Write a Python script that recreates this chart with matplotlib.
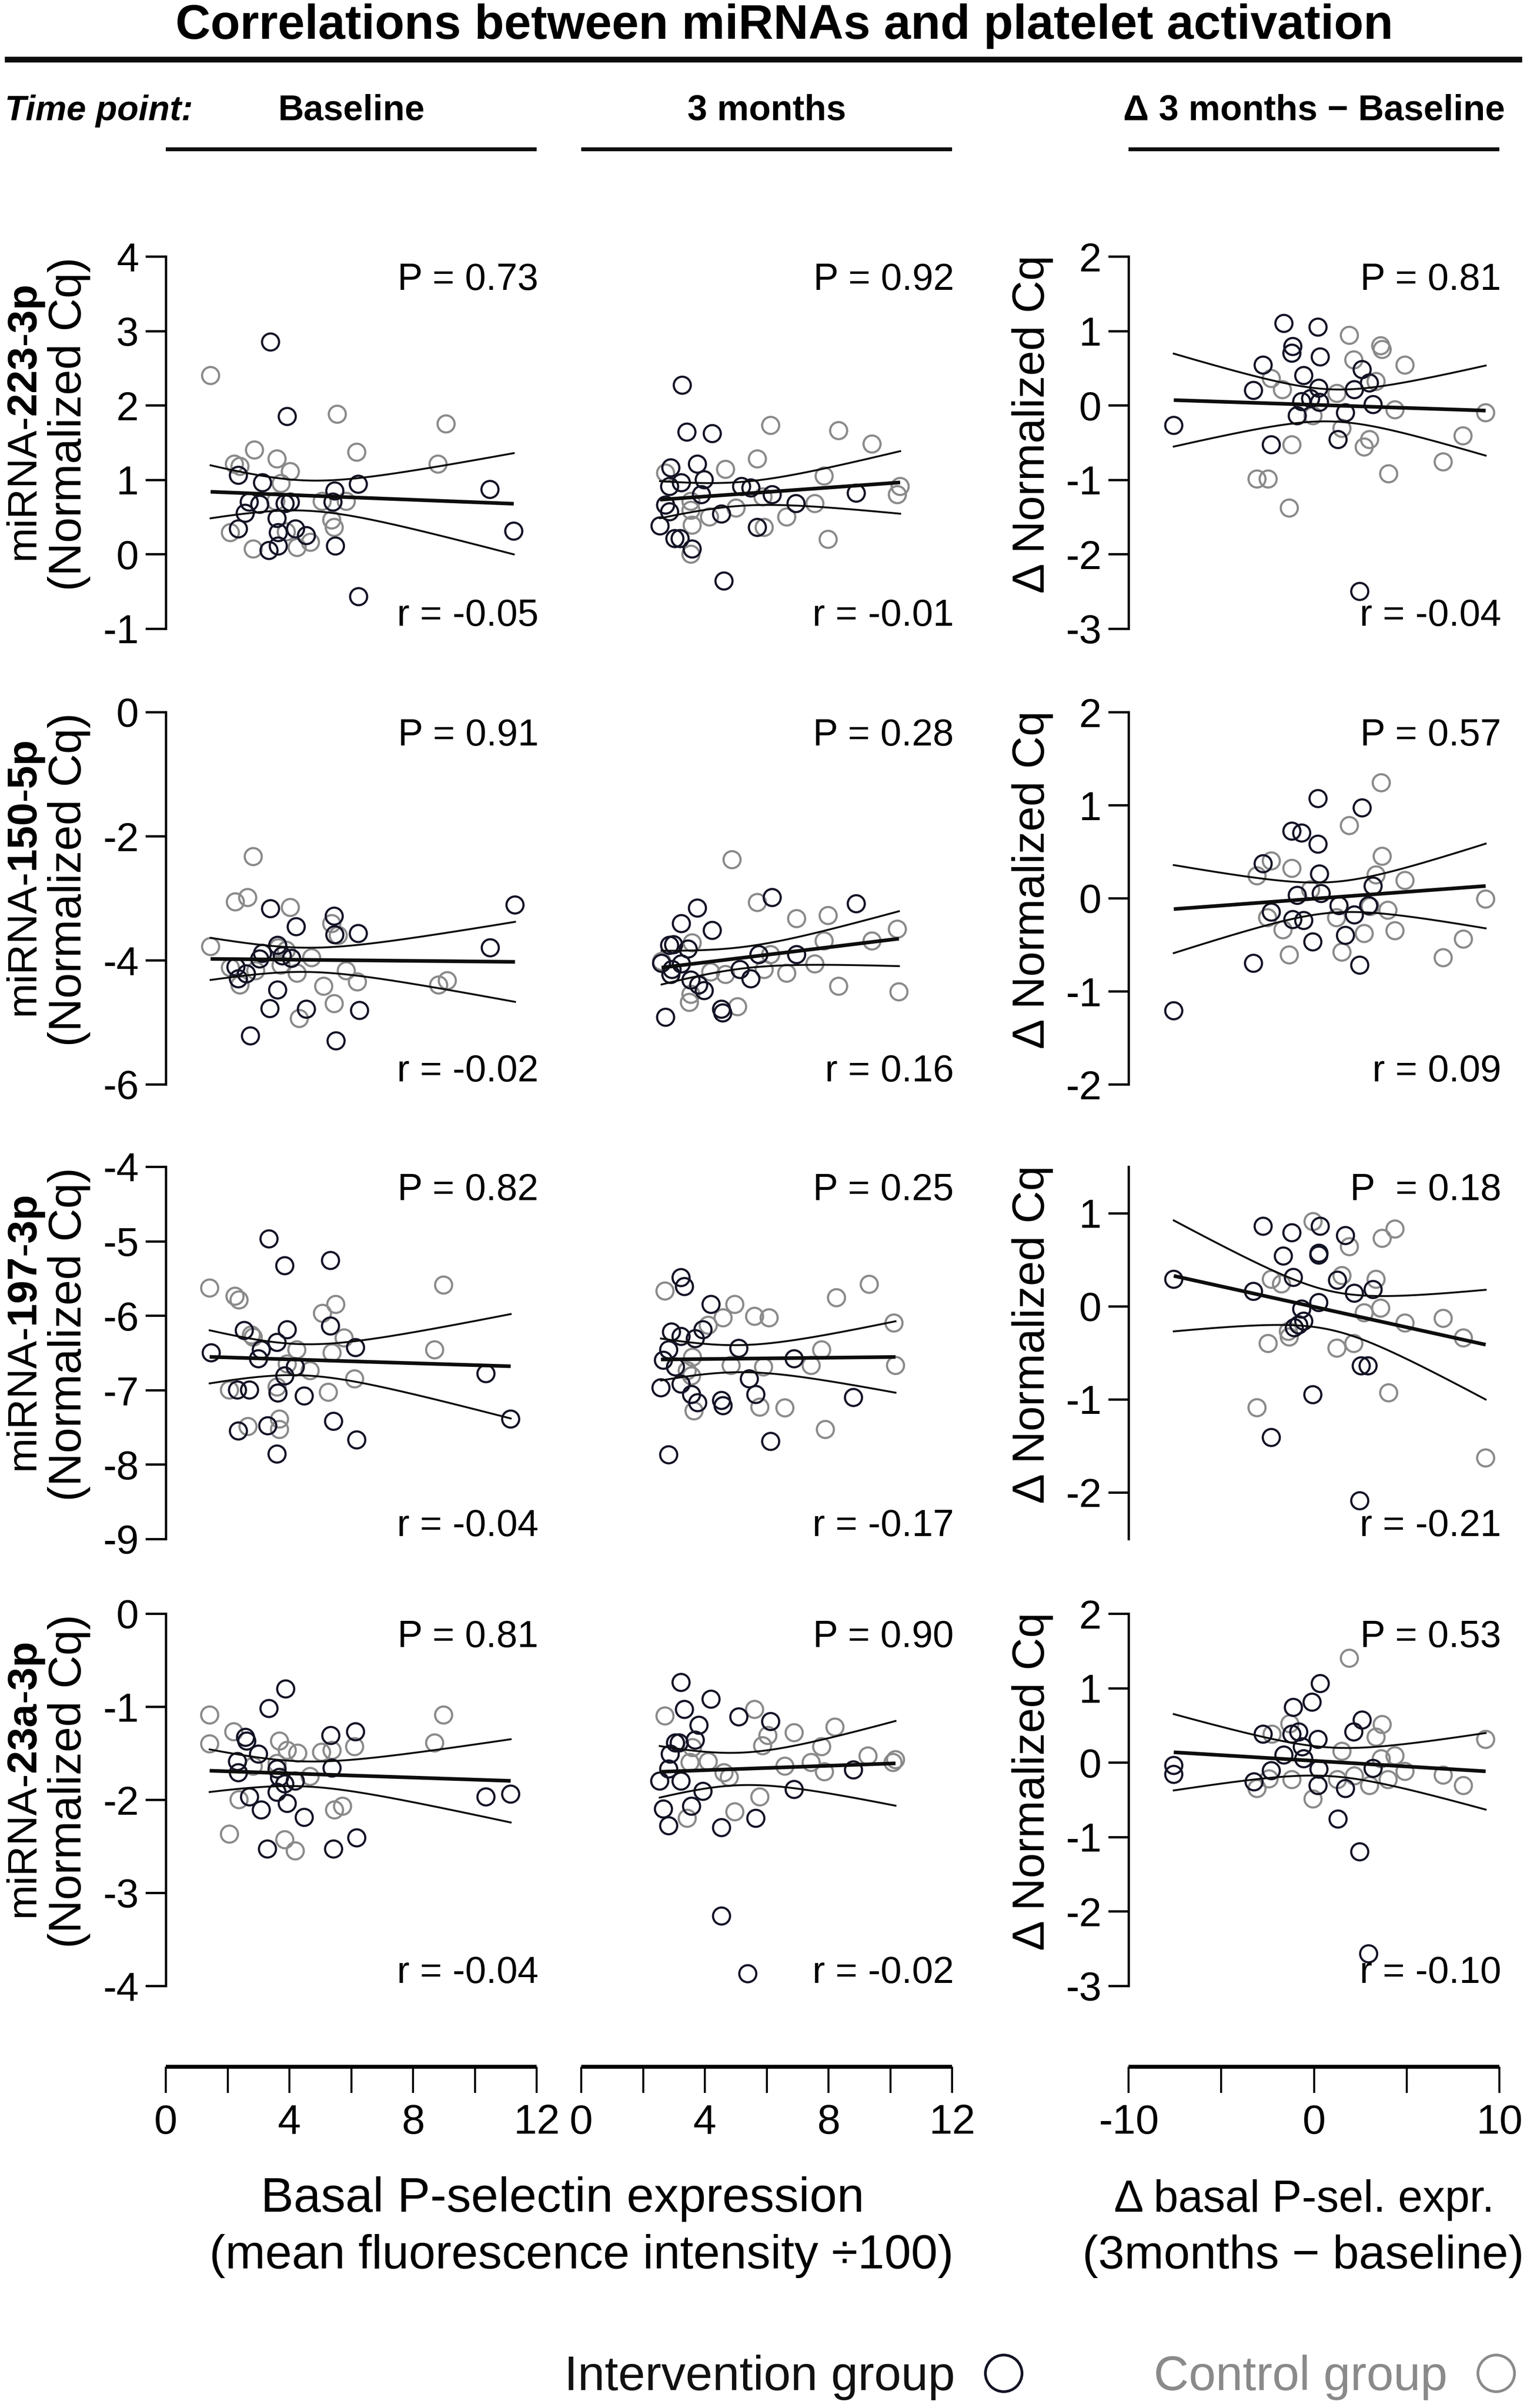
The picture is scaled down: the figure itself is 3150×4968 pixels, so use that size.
import numpy as np
import matplotlib
matplotlib.use('Agg')
import matplotlib.pyplot as plt
from matplotlib.lines import Line2D

plt.rcParams['font.family'] = ['Liberation Sans', 'DejaVu Sans']
plt.rcParams['mathtext.fontset'] = 'custom'
plt.rcParams['mathtext.rm'] = 'Liberation Sans'
plt.rcParams['mathtext.bf'] = 'Liberation Sans:bold'
plt.rcParams['axes.unicode_minus'] = False

# ---- data (int = intervention, ctl = control) ----
# miRNA-223-3p
m223_base_int_x = [3.39, 3.93, 2.35, 3.13, 5.47, 6.23, 10.49, 11.26, 2.70, 3.04, 2.57, 3.86, 4.03, 5.41, 3.60, 2.35, 3.64, 4.20, 4.55, 3.34, 3.64, 5.49, 6.24]
m223_base_int_y = [2.85, 1.85, 1.06, 0.96, 0.85, 0.94, 0.87, 0.31, 0.70, 0.67, 0.55, 0.68, 0.70, 0.70, 0.48, 0.34, 0.29, 0.34, 0.25, 0.05, 0.11, 0.11, -0.57]
m223_base_ctl_x = [1.45, 5.55, 9.07, 2.87, 6.18, 3.60, 8.81, 2.22, 2.40, 4.03, 3.73, 3.56, 5.06, 5.84, 5.37, 5.45, 2.09, 2.83, 4.25, 4.68, 3.90]
m223_base_ctl_y = [2.40, 1.88, 1.75, 1.40, 1.37, 1.28, 1.21, 1.21, 1.18, 1.11, 0.95, 0.71, 0.71, 0.71, 0.46, 0.36, 0.29, 0.07, 0.09, 0.16, 0.30]

m223_3m_int_x = [3.27, 3.42, 4.24, 2.90, 3.76, 3.24, 3.98, 2.86, 3.89, 5.19, 5.49, 6.18, 8.90, 6.95, 2.73, 2.86, 4.54, 2.55, 3.03, 3.20, 3.59, 5.70, 4.62]
m223_3m_int_y = [2.27, 1.64, 1.62, 1.16, 1.21, 0.96, 1.00, 0.91, 0.80, 0.91, 0.89, 0.80, 0.82, 0.68, 0.66, 0.57, 0.54, 0.38, 0.21, 0.21, 0.07, 0.36, -0.36]
m223_3m_ctl_x = [6.13, 8.33, 9.41, 5.70, 4.67, 2.73, 7.86, 10.32, 10.23, 5.88, 7.56, 3.55, 3.55, 5.01, 4.15, 6.65, 3.59, 5.92, 7.99, 3.55]
m223_3m_ctl_y = [1.73, 1.66, 1.48, 1.28, 1.14, 1.09, 1.05, 0.91, 0.80, 0.77, 0.68, 0.71, 0.59, 0.62, 0.50, 0.50, 0.39, 0.36, 0.20, 0.00]

m223_d_int_x = [-1.62, 0.22, -1.14, -1.19, 0.34, -2.74, 2.60, -0.55, 0.26, -3.26, 2.18, 2.99, -0.66, -0.18, 0.30, 3.19, -0.90, 1.70, -7.56, -2.30, 1.30, 2.47]
m223_d_int_y = [1.10, 1.05, 0.79, 0.70, 0.65, 0.54, 0.48, 0.40, 0.23, 0.20, 0.21, 0.30, 0.05, 0.09, 0.04, 0.01, -0.14, -0.10, -0.27, -0.53, -0.46, -2.50]
m223_d_ctl_x = [1.91, 3.60, 3.68, 2.15, 4.91, -2.30, -1.70, 3.35, 1.24, 4.37, 9.26, -0.05, 1.51, 3.00, 2.71, -1.19, 8.04, 6.97, 4.03, -3.07, -2.47, -1.33]
m223_d_ctl_y = [0.94, 0.80, 0.75, 0.61, 0.54, 0.36, 0.21, 0.32, 0.16, -0.06, -0.10, -0.14, -0.31, -0.46, -0.56, -0.53, -0.41, -0.76, -0.92, -0.99, -0.99, -1.38]

# miRNA-150-5p
m150_base_int_x = [3.39, 4.22, 5.45, 5.47, 6.23, 11.30, 10.50, 3.62, 3.13, 3.04, 3.77, 4.07, 2.27, 2.61, 2.35, 3.62, 3.37, 4.55, 6.27, 2.74, 5.51]
m150_base_int_y = [-3.17, -3.46, -3.29, -3.59, -3.57, -3.11, -3.80, -3.76, -3.89, -3.98, -3.93, -3.97, -4.11, -4.22, -4.30, -4.48, -4.78, -4.79, -4.81, -5.22, -5.30]
m150_base_ctl_x = [2.83, 2.65, 2.25, 4.03, 5.37, 5.58, 1.45, 3.64, 3.90, 4.72, 2.09, 2.91, 3.73, 4.25, 5.84, 6.20, 5.11, 8.83, 9.11, 2.40, 5.45, 4.32]
m150_base_ctl_y = [-2.33, -2.99, -3.06, -3.15, -3.41, -3.60, -3.78, -3.80, -3.84, -3.96, -4.12, -4.17, -4.08, -4.21, -4.17, -4.35, -4.42, -4.40, -4.33, -4.40, -4.70, -4.94]

m150_3m_int_x = [3.76, 6.18, 8.90, 3.24, 4.24, 2.86, 2.99, 3.46, 5.75, 6.97, 2.60, 3.24, 2.90, 2.94, 5.14, 3.55, 5.49, 3.80, 3.98, 4.54, 4.58, 2.73]
m150_3m_int_y = [-3.16, -2.99, -3.09, -3.41, -3.52, -3.76, -3.75, -3.82, -3.91, -3.91, -4.05, -4.06, -4.23, -4.15, -4.15, -4.32, -4.30, -4.40, -4.49, -4.79, -4.85, -4.92]
m150_3m_ctl_x = [4.88, 5.70, 6.97, 7.99, 10.23, 9.41, 7.86, 3.59, 6.13, 2.60, 7.56, 4.19, 4.67, 5.92, 6.65, 8.33, 10.28, 3.55, 3.50, 5.06]
m150_3m_ctl_y = [-2.38, -3.07, -3.33, -3.28, -3.50, -3.69, -3.69, -3.72, -3.91, -4.02, -4.06, -4.19, -4.23, -4.15, -4.21, -4.42, -4.51, -4.55, -4.68, -4.75]

m150_d_int_x = [0.22, 2.60, -1.19, -0.66, 0.22, -2.74, 0.30, 3.19, -0.90, 0.39, 1.35, 2.95, -2.30, -1.14, -0.55, 2.18, 1.70, -0.06, -3.26, 2.47, -7.56]
m150_d_int_y = [1.07, 0.97, 0.72, 0.70, 0.58, 0.37, 0.26, 0.13, 0.03, 0.05, -0.08, -0.08, -0.15, -0.23, -0.24, -0.18, -0.40, -0.47, -0.70, -0.72, -1.21]
m150_d_ctl_x = [3.63, 1.91, 3.68, -2.30, -1.19, -3.07, 3.35, 4.91, -0.18, 9.26, 3.03, 3.99, -2.50, 1.22, -1.67, 2.71, 4.37, 8.06, -1.33, 1.51, 6.97]
m150_d_ctl_y = [1.24, 0.78, 0.45, 0.40, 0.32, 0.24, 0.25, 0.19, 0.09, -0.01, -0.09, -0.13, -0.21, -0.21, -0.34, -0.38, -0.35, -0.44, -0.61, -0.58, -0.64]

# miRNA-197-3p
m197_base_int_x = [3.34, 3.85, 5.33, 2.54, 3.93, 5.33, 3.60, 3.09, 3.00, 1.47, 6.14, 4.19, 3.85, 10.36, 2.32, 2.71, 3.63, 4.48, 11.16, 2.35, 3.30, 5.43, 3.60, 6.18]
m197_base_int_y = [-4.97, -5.33, -5.26, -6.20, -6.19, -6.14, -6.36, -6.46, -6.58, -6.50, -6.43, -6.69, -6.81, -6.78, -7.00, -7.00, -7.04, -7.08, -7.39, -7.55, -7.48, -7.42, -7.86, -7.67]
m197_base_ctl_x = [1.42, 2.24, 2.37, 8.99, 5.50, 5.07, 2.77, 2.83, 5.77, 4.24, 5.38, 8.70, 4.67, 3.93, 6.11, 2.06, 3.60, 5.26, 2.66, 3.68, 3.68]
m197_base_ctl_y = [-5.63, -5.74, -5.79, -5.59, -5.85, -5.97, -6.26, -6.29, -6.30, -6.46, -6.50, -6.46, -6.74, -6.65, -6.85, -7.00, -6.96, -7.03, -7.49, -7.39, -7.53]

m197_3m_int_x = [3.23, 3.34, 4.20, 2.92, 3.23, 3.69, 3.94, 5.10, 2.83, 2.66, 6.89, 3.05, 2.58, 3.23, 5.44, 3.57, 3.77, 4.54, 4.59, 5.65, 8.81, 6.13, 2.83]
m197_3m_int_y = [-5.49, -5.61, -5.85, -6.22, -6.28, -6.31, -6.19, -6.44, -6.46, -6.60, -6.58, -6.69, -6.97, -6.92, -6.85, -7.06, -7.17, -7.14, -7.21, -7.06, -7.10, -7.69, -7.87]
m197_3m_ctl_x = [2.71, 9.32, 8.26, 4.97, 5.61, 6.08, 4.59, 4.11, 10.12, 7.78, 3.60, 4.85, 5.90, 7.44, 10.17, 3.43, 3.57, 3.65, 5.78, 6.59, 7.90]
m197_3m_ctl_y = [-5.67, -5.58, -5.76, -5.85, -6.01, -6.03, -6.03, -6.13, -6.10, -6.46, -6.56, -6.67, -6.69, -6.67, -6.67, -6.74, -6.81, -7.28, -7.23, -7.24, -7.53]

m197_d_int_x = [-2.74, -1.19, 0.34, 1.70, -1.65, 0.26, 0.27, -7.56, -1.11, 1.27, -3.26, 2.18, 3.19, 0.26, -0.66, -0.55, -0.82, -1.06, 2.92, 2.55, -0.06, -2.30, 2.47]
m197_d_int_y = [0.86, 0.79, 0.86, 0.76, 0.54, 0.55, 0.57, 0.29, 0.31, 0.28, 0.16, 0.14, 0.18, 0.04, -0.03, -0.16, -0.20, -0.23, -0.64, -0.64, -0.95, -1.41, -2.09]
m197_d_ctl_x = [-0.05, 4.37, 3.68, 1.91, -2.30, -1.75, 1.51, 3.35, 3.60, 2.71, 4.91, 6.97, 8.06, -1.38, -1.33, -2.47, 2.15, 1.24, 4.03, -3.07, 9.26]
m197_d_ctl_y = [0.91, 0.83, 0.73, 0.64, 0.29, 0.24, 0.33, 0.29, -0.02, -0.07, -0.18, -0.13, -0.34, -0.27, -0.33, -0.40, -0.40, -0.45, -0.93, -1.09, -1.63]

# miRNA-23a-3p
m23a_base_int_x = [3.88, 3.34, 2.58, 2.62, 5.34, 6.14, 3.00, 2.32, 2.35, 3.60, 3.68, 5.38, 4.19, 3.85, 2.71, 3.60, 3.93, 3.09, 4.48, 10.36, 11.16, 3.29, 5.43, 6.18]
m23a_base_int_y = [-0.81, -1.02, -1.33, -1.37, -1.31, -1.27, -1.51, -1.59, -1.71, -1.67, -1.76, -1.66, -1.80, -1.83, -1.97, -1.92, -2.04, -2.11, -2.19, -1.97, -1.94, -2.53, -2.53, -2.41]
m23a_base_ctl_x = [1.42, 8.99, 1.42, 2.20, 3.68, 3.93, 4.27, 5.04, 5.38, 6.11, 8.70, 2.83, 3.60, 4.67, 2.37, 5.46, 5.72, 2.06, 3.85, 4.19]
m23a_base_ctl_y = [-1.09, -1.09, -1.40, -1.27, -1.37, -1.47, -1.50, -1.49, -1.47, -1.43, -1.39, -1.64, -1.61, -1.75, -2.00, -2.11, -2.07, -2.37, -2.43, -2.55]

m23a_3m_int_x = [3.23, 4.20, 3.34, 5.10, 6.13, 3.81, 3.69, 3.05, 3.17, 2.88, 2.83, 2.54, 3.23, 8.81, 3.94, 6.89, 2.66, 3.57, 2.83, 4.54, 5.65, 4.54, 5.39]
m23a_3m_int_y = [-0.74, -0.92, -1.03, -1.11, -1.16, -1.20, -1.36, -1.39, -1.39, -1.51, -1.67, -1.80, -1.80, -1.68, -1.91, -1.89, -2.10, -2.07, -2.28, -2.30, -2.20, -3.25, -3.87]
m23a_3m_ctl_x = [2.71, 5.61, 8.21, 6.89, 6.04, 5.87, 7.78, 3.60, 9.28, 10.17, 10.09, 3.52, 4.11, 6.59, 7.44, 7.87, 4.62, 4.79, 5.78, 4.97, 3.43]
m23a_3m_ctl_y = [-1.10, -1.03, -1.22, -1.28, -1.31, -1.42, -1.43, -1.44, -1.53, -1.57, -1.60, -1.60, -1.59, -1.64, -1.60, -1.70, -1.71, -1.76, -1.97, -2.13, -2.20]

m23a_d_int_x = [0.34, -0.10, -1.11, 2.60, 2.15, -2.74, -1.19, -0.82, 0.22, -0.63, -1.62, -0.55, -7.56, -7.56, 0.27, -2.30, 3.19, -3.23, 0.22, 1.70, 1.30, 2.47, 2.95]
m23a_d_int_y = [1.06, 0.81, 0.74, 0.57, 0.41, 0.38, 0.38, 0.41, 0.31, 0.21, 0.10, 0.05, -0.04, -0.16, -0.09, -0.11, -0.08, -0.26, -0.31, -0.35, -0.76, -1.20, -2.57]
m23a_d_ctl_x = [1.91, -1.30, 3.68, 3.35, -2.26, 9.26, 1.51, 4.37, 3.63, 4.91, 6.97, 2.18, 1.27, -1.19, -2.42, 3.00, 4.00, 8.06, -3.07, -0.05]
m23a_d_ctl_y = [1.40, 0.52, 0.51, 0.34, 0.38, 0.31, 0.15, 0.09, 0.05, -0.12, -0.17, -0.18, -0.23, -0.23, -0.22, -0.31, -0.23, -0.31, -0.35, -0.49]

# row labels, stats text, axis settings
mirna_names = ['223-3p', '150-5p', '197-3p', '23a-3p']
time_points = ['Baseline', '3 months', 'Δ 3 months − Baseline']
p_texts = [['P = 0.73', 'P = 0.92', 'P = 0.81'],
           ['P = 0.91', 'P = 0.28', 'P = 0.57'],
           ['P = 0.82', 'P = 0.25', 'P  = 0.18'],
           ['P = 0.81', 'P = 0.90', 'P = 0.53']]
r_texts = [['r = -0.05', 'r = -0.01', 'r = -0.04'],
           ['r = -0.02', 'r = 0.16', 'r = 0.09'],
           ['r = -0.04', 'r = -0.17', 'r = -0.21'],
           ['r = -0.04', 'r = -0.02', 'r = -0.10']]
ylims_abs = [(-1, 4), (-6, 0), (-9, -4), (-4, 0)]
yticks_abs = [[-1, 0, 1, 2, 3, 4], [-6, -4, -2, 0], [-9, -8, -7, -6, -5, -4], [-4, -3, -2, -1, 0]]
ylims_delta = [(-3, 2), (-2, 2), (-2.5, 1.5), (-3, 2)]
yticks_delta = [[-3, -2, -1, 0, 1, 2], [-2, -1, 0, 1, 2], [-2, -1, 0, 1], [-3, -2, -1, 0, 1, 2]]

panels = [
    [(m223_base_int_x, m223_base_int_y, m223_base_ctl_x, m223_base_ctl_y),
     (m223_3m_int_x, m223_3m_int_y, m223_3m_ctl_x, m223_3m_ctl_y),
     (m223_d_int_x, m223_d_int_y, m223_d_ctl_x, m223_d_ctl_y)],
    [(m150_base_int_x, m150_base_int_y, m150_base_ctl_x, m150_base_ctl_y),
     (m150_3m_int_x, m150_3m_int_y, m150_3m_ctl_x, m150_3m_ctl_y),
     (m150_d_int_x, m150_d_int_y, m150_d_ctl_x, m150_d_ctl_y)],
    [(m197_base_int_x, m197_base_int_y, m197_base_ctl_x, m197_base_ctl_y),
     (m197_3m_int_x, m197_3m_int_y, m197_3m_ctl_x, m197_3m_ctl_y),
     (m197_d_int_x, m197_d_int_y, m197_d_ctl_x, m197_d_ctl_y)],
    [(m23a_base_int_x, m23a_base_int_y, m23a_base_ctl_x, m23a_base_ctl_y),
     (m23a_3m_int_x, m23a_3m_int_y, m23a_3m_ctl_x, m23a_3m_ctl_y),
     (m23a_d_int_x, m23a_d_int_y, m23a_d_ctl_x, m23a_d_ctl_y)],
]

DARK = '#131326'
GRAY = '#8a8a8a'
LINE = '#0d0d0d'
T_CRIT = 2.02  # approx. t quantile (97.5%, ~40 df)

W, H = 3150, 4968
fig = plt.figure(figsize=(W / 100, H / 100), dpi=100)

col_left = [342, 1199, 2328]
col_w = 765
row_top = [529, 1469, 2407, 3329]
row_h = 768


def fx(px):
    return px / W


def fy(py):
    return 1 - py / H


def fit_band(ax, x, y):
    x = np.asarray(x, float)
    y = np.asarray(y, float)
    n = len(x)
    b, a = np.polyfit(x, y, 1)
    xs = np.linspace(x.min(), x.max(), 200)
    yh = a + b * xs
    s = np.sqrt(np.sum((y - (a + b * x)) ** 2) / (n - 2))
    sxx = np.sum((x - x.mean()) ** 2)
    se = s * np.sqrt(1 / n + (xs - x.mean()) ** 2 / sxx)
    ax.plot(xs, yh, color=LINE, lw=5.4, zorder=4, solid_capstyle='butt')
    ax.plot(xs, yh + T_CRIT * se, color=LINE, lw=2.8, zorder=4)
    ax.plot(xs, yh - T_CRIT * se, color=LINE, lw=2.8, zorder=4)


for r in range(4):
    for c in range(3):
        rect = [fx(col_left[c]), fy(row_top[r] + row_h), fx(col_w), row_h / H]
        ax = fig.add_axes(rect)
        ix, iy, cx, cy = panels[r][c]
        ax.scatter(cx, cy, s=640, facecolors='none', edgecolors=GRAY, linewidths=3.2,
                   clip_on=False, zorder=2)
        ax.scatter(ix, iy, s=640, facecolors='none', edgecolors=DARK, linewidths=3.2,
                   clip_on=False, zorder=3)
        fit_band(ax, list(ix) + list(cx), list(iy) + list(cy))

        if c < 2:
            ax.set_xlim(0, 12)
            ax.set_ylim(*ylims_abs[r])
            ax.set_yticks(yticks_abs[r])
        else:
            ax.set_xlim(-10, 10)
            ax.set_ylim(*ylims_delta[r])
            ax.set_yticks(yticks_delta[r])

        for side in ['top', 'right']:
            ax.spines[side].set_visible(False)
        ax.spines['left'].set_linewidth(3.4)
        ax.tick_params(axis='y', length=30, width=3.4, labelsize=60, pad=10)
        if c == 1:
            ax.spines['left'].set_visible(False)
            ax.tick_params(axis='y', left=False, labelleft=False)

        if r == 3:
            ax.spines['bottom'].set_position(('outward', 120))
            ax.spines['bottom'].set_linewidth(5.8)
            ax.spines['bottom'].set_capstyle('butt')
            if c < 2:
                ax.set_xticks([0, 2, 4, 6, 8, 10, 12])
                ax.set_xticklabels(['0', '', '4', '', '8', '', '12'])
            else:
                ax.set_xticks([-10, -5, 0, 5, 10])
                ax.set_xticklabels(['-10', '', '0', '', '10'])
            ax.tick_params(axis='x', length=39, width=3, labelsize=62, pad=16)
        else:
            ax.spines['bottom'].set_visible(False)
            ax.tick_params(axis='x', bottom=False, labelbottom=False)

        ax.text(1.005, 0.985, p_texts[r][c], transform=ax.transAxes, ha='right', va='top',
                fontsize=56)
        ax.text(1.005, 0.008, r_texts[r][c], transform=ax.transAxes, ha='right',
                va='baseline', fontsize=56)

    # row labels
    yc = fy(row_top[r] + row_h / 2 - 38)
    lead, tail = mirna_names[r].split('-')
    fig.text(fx(54), yc, 'miRNA-$\\mathbf{' + lead + '}$-$\\mathbf{' + tail + '}$',
             rotation=90, ha='center', va='center', fontsize=62)
    fig.text(fx(143), yc, '(Normalized Cq)', rotation=90, ha='center', va='center', fontsize=68)
    fig.text(fx(2130), yc, 'Δ Normalized Cq', rotation=90, ha='center', va='center',
             fontsize=67)

# title and header
fig.text(fx(1618), fy(80), 'Correlations between miRNAs and platelet activation',
         ha='center', va='baseline', fontsize=72, fontweight='bold')
fig.add_artist(Line2D([fx(10), fx(3140)], [fy(123), fy(123)], transform=fig.transFigure,
                      color=LINE, lw=8.5, solid_capstyle='butt'))
fig.text(fx(10), fy(248), 'Time point:', ha='left', va='baseline', fontsize=52,
         fontweight='bold', fontstyle='italic')
for c in range(3):
    xc = col_left[c] + col_w / 2
    fig.text(fx(xc), fy(248), time_points[c], ha='center', va='baseline', fontsize=53,
             fontweight='bold')
    fig.add_artist(Line2D([fx(col_left[c]), fx(col_left[c] + col_w)], [fy(308), fy(308)],
                          transform=fig.transFigure, color=LINE, lw=5.8,
                          solid_capstyle='butt'))

# x labels
fig.text(fx(1160), fy(4563), 'Basal P-selectin expression', ha='center', va='baseline',
         fontsize=73)
fig.text(fx(1200), fy(4680), '(mean fluorescence intensity ÷100)', ha='center',
         va='baseline', fontsize=71)
fig.text(fx(2690), fy(4563), 'Δ basal P-sel. expr.', ha='center', va='baseline', fontsize=66)
fig.text(fx(2688), fy(4680), '(3months − baseline)', ha='center', va='baseline', fontsize=70)

# legend
handles = [Line2D([], [], marker='o', ls='none', mfc='none', mec=DARK, mew=4.0, ms=34,
                  label='Intervention group'),
           Line2D([], [], marker='o', ls='none', mfc='none', mec=GRAY, mew=4.0, ms=34,
                  label='Control group')]
fig.legend(handles=handles, ncol=2, markerfirst=False, frameon=False, fontsize=72,
           labelcolor=['#111111', GRAY], loc='center', bbox_to_anchor=(fx(2150), fy(4905)),
           columnspacing=2.6, handletextpad=0.5, handlelength=1.0, markerscale=1.6)

fig.savefig('out.png', dpi=100)
